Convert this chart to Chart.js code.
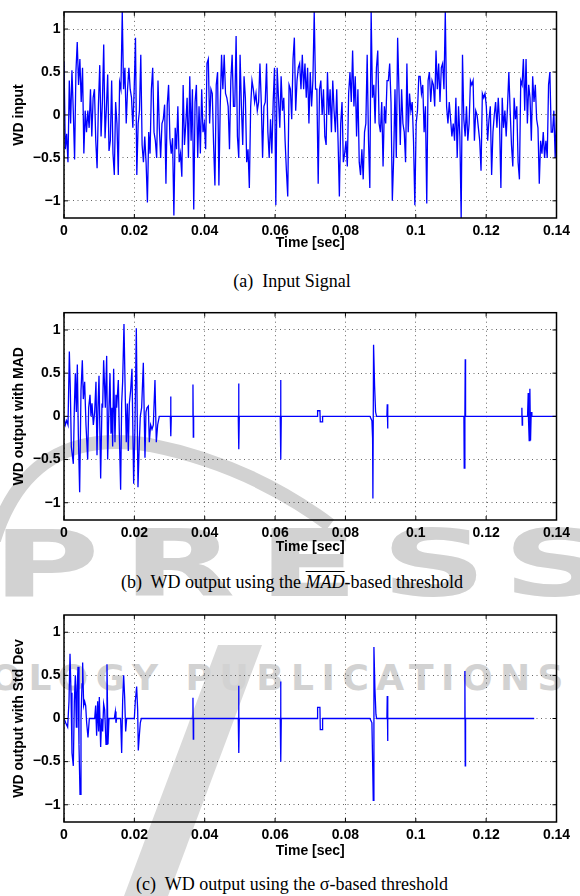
<!DOCTYPE html>
<html>
<head>
<meta charset="utf-8">
<script src="https://cdn.jsdelivr.net/npm/chart.js@4.4.0/dist/chart.umd.min.js"></script>
<style>
  html, body { margin: 0; padding: 0; background: #fff; }
  body { width: 580px; height: 896px; position: relative; overflow: hidden; }
  canvas { position: absolute; left: 0; }
  .caption { position: absolute; left: 0; width: 584px; text-align: center; font-family: "Liberation Serif", "Times New Roman", serif; font-size: 18px; line-height: 20px; color: #000; white-space: nowrap; }
  .wm { position: absolute; color: #d2d2d2; font-family: "DejaVu Sans", sans-serif; font-weight: bold; white-space: nowrap; transform-origin: left top; }
</style>
</head>
<body>

<!-- faint publisher watermark behind the plots -->
<svg width="580" height="896" style="position:absolute;left:0;top:0">
  <path d="M -6 540 Q 30 425 150 445 Q 250 465 330 525" fill="none" stroke="#d2d2d2" stroke-width="14"/>
  <polygon points="124,896 168,896 262,645 218,645" fill="#dadada"/>
</svg>
<div class="wm" style="left:-8px; top:519px; font-size:92px; line-height:92px; letter-spacing:14px; transform:scaleX(1.6);">PRESS</div>
<div class="wm" style="left:-183px; top:660px; font-size:36px; line-height:36px; letter-spacing:7.5px;">TECHNOLOGY PUBLICATIONS</div>

<canvas id="chartA" width="580" height="252" style="top:0px"></canvas>
<div class="caption" style="top:271px">(a)&nbsp; Input Signal</div>

<canvas id="chartB" width="580" height="256" style="top:300px"></canvas>
<div class="caption" style="top:572px">(b)&nbsp; WD output using the <span style="font-style:italic; text-decoration:overline;">MAD</span>-based threshold</div>

<canvas id="chartC" width="580" height="258" style="top:602px"></canvas>
<div class="caption" style="top:874px">(c)&nbsp; WD output using the &sigma;-based threshold</div>

<script>
// axis ticks
const X_TICKS = [0, 0.02, 0.04, 0.06, 0.08, 0.1, 0.12, 0.14];
const X_LABELS = ['0', '0.02', '0.04', '0.06', '0.08', '0.1', '0.12', '0.14'];
const Y_TICKS = [-1, -0.5, 0, 0.5, 1];
const Y_LABELS = ['\u22121', '\u22120.5', '0', '0.5', '1'];

// (a) input signal, uniformly sampled over 0 .. 0.14 s
const inputSignal = [
  0.62, -0.4, -0.22, -0.55, 0.4, -0.1, 0.52, 0.05, -0.52, 0.5,
  0.85, 0.35, 0.65, 0.15, 0.55, -0.45, 0.05, -0.2, 0.05, -0.15,
  0.3, -0.25, 0.2, 0.3, -0.3, -0.62, 0.12, 0.58, -0.25, 0.15,
  0.82, -0.27, 0.07, 0.47, -0.42, -0.3, 0.4, -0.45, -0.7, 0.15,
  -0.1, -0.7, 0.38, 0.3, 1.2, 0.3, 0.55, -0.1, 0.3, 0.55,
  0.3, 0.2, -0.15, 0.3, 0.9, -0.7, -0.1, 0.05, 0.7, -0.35,
  -0.55, -0.25, -0.55, -1.02, -0.2, -0.45, 0.3, 0.55, -0.2, -0.3,
  -0.5, 0.4, -0.15, -0.5, -0.1, -0.05, 0.12, -0.8, 0.12, 0.35,
  -0.27, -0.45, -0.27, -1.17, -0.15, -0.4, 0.1, -0.55, -0.45, -0.72,
  0.35, -0.35, -0.1, 0.2, -0.5, 0.45, -0.3, 0.3, -1.1, 0.15,
  0.35, -0.5, 0.1, -0.45, 0.3, -0.2, -0.1, -0.4, 0.6, 0.65,
  -0.1, 0.3, 0.25, -0.35, -0.82, 0.35, 0.5, -0.82, 0.1, 0.7,
  0.3, 0.7, 0.25, 0.2, 0.1, -0.4, 0.4, 0.7, 0.1, 0.1,
  0.92, -0.25, -0.5, 0.7, 0.1, -0.35, 0.45, 0.2, -0.55, -0.4,
  -0.85, 0.1, 0.4, 0.3, 0.15, 0.25, 0.05, 0.15, 0.6, 0.15,
  -0.5, 0.1, 0.15, 0.6, -0.2, -0.5, -0.05, -0.45, 0.15, 0.55,
  -1.05, 0.55, 0.2, -0.15, 0.45, 0.05, 0.2, -0.3, -0.65, -0.95,
  0.35, 0.3, -0.05, 0.65, 0.9, 0.05, 0.4, 0.55, 0.6,
  0.3, 0.7, 0.3, 0.6, 0.2, 0.55, -0.1, 0.5, 0.1, 0.4,
  1.2, 0.3, 0.3, -0.8, 0.3, 0.4, 0.0, 0.3, -0.25, -0.35,
  0.5, 0.0, 0.3, -0.2, 0.4, 0.05, -0.2, 0.3, -0.3, -0.95,
  -0.1, 0.15, -0.55, -0.45, -0.3, -0.6, 0.25, 0.5, 0.15, 0.75,
  0.1, 0.45, -0.25, 0.3, -0.55, -0.7, -0.4, -0.75, -0.2, -0.1,
  0.7, -0.3, -0.85, 1.2, 0.2, 0.35, -0.1, 0.55, 0.75, -0.1,
  -0.2, 0.15, -0.6, 0.1, -0.1, 0.4, 0.4, 0.6, 0.15, -1.0,
  -0.5, 0.3, -0.5, 0.9, 0.3, -0.35, 0.3, -0.1, -0.2, -0.55,
  0.6, -0.2, 0.25, 0.05, 0.15, -0.3, -1.05, -0.1, 0.05, 0.45,
  0.45, 0.25, 0.35, -0.2, 0.1, -1.03, 0.4, 0.5, 0.15, 0.4,
  0.35, 0.1, 0.75, 0.3, 0.6, 0.15, 0.55, 0.6, 0.3, 1.2,
  0.1, -0.1, 0.15, -0.05, -0.25, -0.1, -0.3, 0.2, -0.5, 0.1,
  -0.25, -1.2, 0.7, -0.05, -0.25, 0.1, -0.3, -0.1, 0.4, 0.35,
  0.4, -0.3, 0.05, 0.0, -0.15, -0.3, -0.65, 0.25, 0.2, 0.25,
  0.1, -0.3, -0.05, 0.1, -0.7, -0.2, 0.0, 0.15, -0.15, 0.2,
  -0.1, -0.85, 0.2, -0.15, 0.05, -0.25, 0.1, 0.5, 0.05, -0.35,
  -0.6, 0.2, -0.05, 0.1, -0.55, -0.75, 0.4, 0.35, 0.65, 0.05,
  0.65, -0.1, 0.35, 0.2, -0.3, 0.45, 0.15, 0.35, -0.05, -0.15,
  -0.8, -0.3, -0.45, -0.2, -0.5, -0.3, -0.5, 0.35, 0.5, -0.2,
  -0.2, 0.05, -0.5, 0.0
];
const INPUT_END = 0.14; // seconds

// (b) MAD threshold output: time in ms, value
const madTimeMs = [
  0, 0.38, 0.76, 1.14, 1.52, 1.80, 2.08, 2.37, 2.65, 2.94,
  3.22, 3.51, 3.79, 4.07, 4.45, 4.83, 5.21, 5.49, 5.87, 6.25,
  6.73, 7.01, 7.39, 7.67, 7.96, 8.34, 8.72, 9.09, 9.38, 9.66,
  9.95, 10.42, 10.80, 10.99, 11.27, 11.75, 12.13, 12.41, 12.79, 13.07,
  13.36, 13.64, 13.83, 14.11, 14.49, 14.78, 14.97, 15.44, 15.73, 16.10,
  16.39, 16.67, 17.05, 17.43, 17.71, 18.00, 18.28, 18.57, 18.95, 19.32,
  19.80, 20.18, 20.56, 21.03, 21.41, 21.69, 22.07, 22.55, 23.02, 23.30,
  23.59, 23.97, 24.25, 24.63, 25.01, 25.39, 25.86, 26.24, 26.62, 27.09,
  30.22, 30.31, 30.41, 30.50, 36.57, 36.66, 36.76, 36.85,
  49.54, 49.64, 49.73, 49.83, 61.48, 61.57, 61.67, 61.76,
  71.99, 72.09, 72.75, 72.85, 73.42, 73.51,
  86.96, 87.53, 87.72, 87.81, 88.00, 88.29, 88.57, 88.86,
  91.79, 91.89, 91.98, 92.08,
  113.68, 113.77, 113.96, 114.06, 114.15,
  130.06, 130.16, 130.25, 130.35,
  131.77, 131.96, 132.05, 132.24, 132.43, 132.62, 132.81, 133.00,
  140
];
const madValues = [
  0, -0.1, -0.05, -0.1, 0.75, 0.3, -0.35, -0.45, -0.55, 0.1,
  0.5, 0.05, 0.6, -0.2, -0.88, 0.3, 0.65, 0.2, 0.4, -0.1,
  -0.5, 0.1, 0.25, 0.0, 0.15, -0.1, 0.05, 0.4, -0.45, 0.1,
  0.47, -0.72, 0.15, 0.1, 0.65, 0.1, 0.7, -0.5, 0.1, 0.5,
  -0.2, 0.1, -0.35, 0.55, -0.3, 0.25, 0.1, 0.42, -0.2, -0.85,
  0.15, 0.4, 1.07, 0.2, -0.3, 0.15, -0.4, 0.15, 0.3, 0.55,
  -0.78, -0.1, 1.02, -0.82, -0.3, 0.0, 0.1, 0.62, -0.48, 0.05,
  0.1, 0.12, -0.3, -0.1, -0.15, -0.1, 0.42, -0.3, -0.1, 0.0,
  0, 0.23, -0.23, 0, 0, 0.37, -0.24, 0,
  0, 0.38, -0.38, 0, 0, 0.42, -0.5, 0,
  0, 0.065, 0.065, -0.065, -0.065, 0,
  0, -0.05, -0.25, -0.95, 0.83, 0.35, 0.05, 0,
  0, 0.14, -0.14, 0,
  0, -0.6, 0.02, 0.66, 0,
  0, 0.1, -0.1, 0,
  0, 0.27, -0.05, -0.28, 0.32, -0.28, 0.05, 0,
  0
];

// (c) std-dev threshold output: time in ms, value
const stdTimeMs = [
  0, 0.47, 1.04, 1.42, 1.71, 1.99, 2.27, 2.65, 2.94, 3.22,
  3.51, 3.69, 3.98, 4.26, 4.55, 4.83, 5.12, 5.30, 5.59, 5.87,
  6.16, 6.44, 6.82, 7.20, 8.72, 9.00, 9.28, 9.57, 9.85, 10.04,
  10.42, 10.70, 10.99, 11.27, 11.56, 11.94, 12.22, 12.50, 12.79, 14.30,
  14.59, 14.78, 14.97, 16.10, 16.39, 16.67, 16.96, 17.24, 17.53, 17.81,
  19.99, 20.27, 20.65, 20.94, 21.12, 21.41, 21.69, 21.98,
  36.57, 36.66, 36.76, 36.85, 49.54, 49.64, 49.73, 49.83,
  61.48, 61.57, 61.67, 61.76,
  71.99, 72.09, 72.75, 72.85, 73.42, 73.51,
  86.96, 87.53, 87.72, 87.91, 88.10, 88.38, 88.67, 88.86,
  91.79, 91.89, 91.98, 92.08,
  113.87, 113.96, 114.06, 114.15,
  133.66
];
const stdValues = [
  0, -0.05, -0.1, 0.2, 0.75, 0.3, -0.4, -0.55, 0.2, 0.5,
  -0.1, 0.3, 0.6, -0.3, -0.88, 0, 0.4, 0.65, 0.15, 0.2,
  0.15, -0.05, -0.22, 0, 0, 0.15, -0.2, 0.2, -0.15, 0.25,
  -0.33, 0, -0.15, 0.17, 0.1, -0.3, 0.63, -0.3, 0, 0,
  0.08, -0.05, 0, 0, -0.4, 0.2, 0.5, 0.25, -0.15, 0,
  0, 0.2, 0.37, 0.1, -0.37, -0.2, -0.05, 0,
  0, 0.24, -0.24, 0, 0, 0.38, -0.4, 0,
  0, 0.43, -0.5, 0,
  0, 0.13, 0.13, -0.13, -0.13, 0,
  0, -0.05, -0.48, -0.95, 0.83, 0.35, 0.05, 0,
  0, 0.26, -0.26, 0,
  0, 0.55, -0.55, 0,
  0
];

const tickFont = { family: '"Liberation Sans", Arial, Helvetica, sans-serif', size: 14, weight: 'bold' };

// box round the plot area with small inward ticks on all four sides
const framePlugin = {
  id: 'frame',
  afterDraw(chart) {
    const ctx = chart.ctx;
    const a = chart.chartArea;
    const xs = chart.scales.x;
    const ys = chart.scales.y;
    ctx.save();
    ctx.strokeStyle = '#000';
    ctx.lineWidth = 1;
    ctx.beginPath();
    X_TICKS.forEach(v => {
      const px = xs.getPixelForValue(v);
      ctx.moveTo(px, a.bottom); ctx.lineTo(px, a.bottom - 4);
      ctx.moveTo(px, a.top); ctx.lineTo(px, a.top + 4);
    });
    Y_TICKS.forEach(v => {
      const py = ys.getPixelForValue(v);
      ctx.moveTo(a.left, py); ctx.lineTo(a.left + 4, py);
      ctx.moveTo(a.right, py); ctx.lineTo(a.right - 4, py);
    });
    ctx.stroke();
    ctx.lineWidth = 1.5;
    ctx.strokeRect(a.left, a.top, a.right - a.left, a.bottom - a.top);
    ctx.restore();
  }
};

function makeChart(id, points, yTitle, pad) {
  const gridStyle = { color: 'rgba(0,0,0,0.6)', lineWidth: 1, drawTicks: false };
  const borderStyle = { display: false, dash: [1, 3.5] };
  return new Chart(document.getElementById(id), {
    type: 'line',
    data: {
      datasets: [{
        data: points,
        borderColor: '#0000ff',
        borderWidth: 1.3,
        pointRadius: 0,
        tension: 0,
        fill: false
      }]
    },
    options: {
      responsive: false,
      animation: false,
      events: [],
      layout: { padding: { top: pad.top, right: 23.5, bottom: 0, left: 0 } },
      plugins: { legend: { display: false }, tooltip: { enabled: false } },
      scales: {
        x: {
          type: 'linear',
          min: 0,
          max: 0.14,
          afterBuildTicks: s => { s.ticks = X_TICKS.map(v => ({ value: v })); },
          afterFit: s => { s.height = pad.xHeight; },
          grid: gridStyle,
          border: borderStyle,
          ticks: {
            color: '#000', font: tickFont, padding: pad.tickPad,
            autoSkip: false, maxRotation: 0,
            callback: (v, i) => X_LABELS[i]
          },
          title: { display: true, text: 'Time [sec]', color: '#000', font: tickFont, padding: { top: 0, bottom: 0 } }
        },
        y: {
          min: -1.2,
          max: 1.2,
          afterBuildTicks: s => { s.ticks = Y_TICKS.map(v => ({ value: v })); },
          afterFit: s => { s.width = 64; },
          grid: gridStyle,
          border: borderStyle,
          ticks: {
            color: '#000', font: tickFont, padding: 3.5,
            callback: (v, i) => Y_LABELS[i]
          },
          title: { display: true, text: yTitle, color: '#000', font: tickFont, padding: { top: 10.3, bottom: 0 } }
        }
      }
    },
    plugins: [framePlugin]
  });
}

document.addEventListener('DOMContentLoaded', function() {
  const dt = INPUT_END / (inputSignal.length - 1);
  const inputPoints = inputSignal.map((v, i) => ({ x: i * dt, y: v }));
  const madPoints = madTimeMs.map((t, i) => ({ x: t / 1000, y: madValues[i] }));
  const stdPoints = stdTimeMs.map((t, i) => ({ x: t / 1000, y: stdValues[i] }));

  makeChart('chartA', inputPoints, 'WD input', { top: 11, xHeight: 34, tickPad: 5 });
  makeChart('chartB', madPoints, 'WD output with MAD', { top: 12.7, xHeight: 36, tickPad: 5 });
  makeChart('chartC', stdPoints, 'WD output with Std Dev', { top: 13, xHeight: 38, tickPad: 5 });
});
</script>
</body>
</html>
